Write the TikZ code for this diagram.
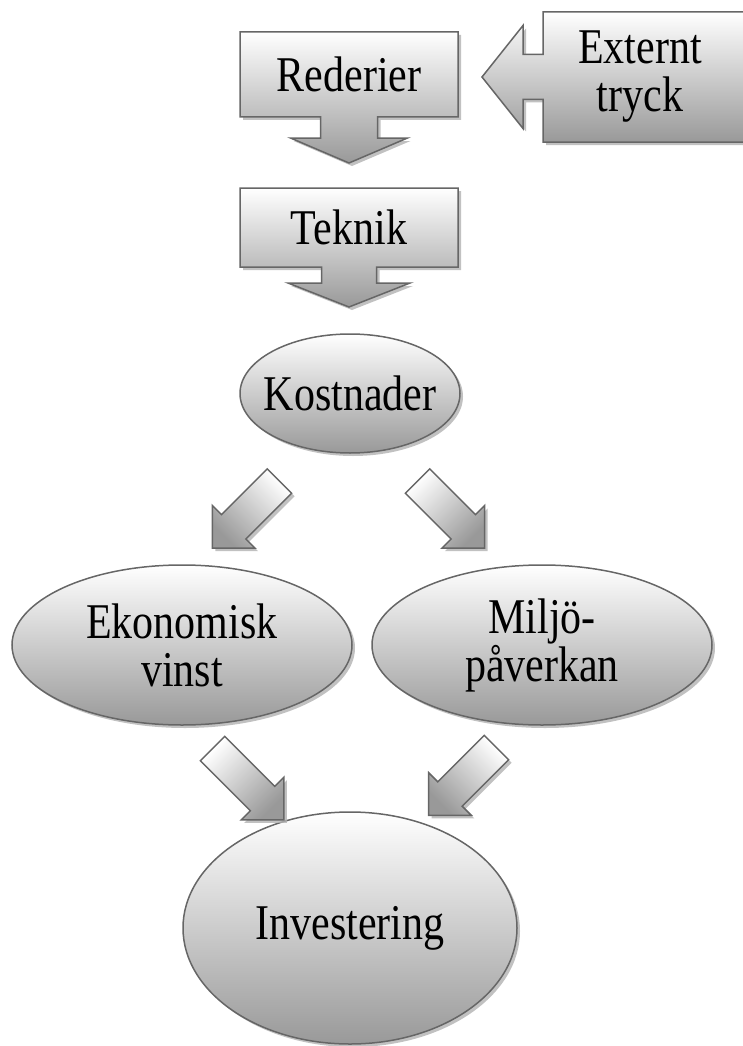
\documentclass[tikz,border=0pt]{standalone}
\usepackage{fontspec}
\setmainfont{Liberation Serif}[FakeStretch=0.84]
\usetikzlibrary{shapes, arrows, positioning, backgrounds, shadows, calc}
\tikzstyle{shaded} = [draw=black!60, line width=1.5pt, top color=white, bottom color=black!40, drop shadow={shadow xshift=3pt, shadow yshift=-3pt, fill=black!30, opacity=0.8}]
\tikzstyle{plaintext} = [inner sep=0pt, outer sep=0pt, align=center, font=\fontsize{50}{48}\selectfont]
\tikzstyle{calloutbox} = [shaded, line join=miter]
\tikzstyle{bubble} = [ellipse, shaded, inner sep=0pt, align=center, font=\fontsize{50}{48}\selectfont]
\tikzstyle{bigarrow} = [single arrow, shaded, inner xsep=0pt, inner ysep=16.5pt, single arrow tip angle=90, single arrow head extend=13pt, minimum width=59pt, minimum height=96pt, anchor=tail]

\begin{document}
\begin{tikzpicture}[x=1pt, y=1pt]
    \useasboundingbox (0,0) rectangle (743,-1046);

    % Nodes
    \node [plaintext, minimum width=218pt, minimum height=85pt] (rederier) at (349,-74.5) {Rederier};
    \node [plaintext, minimum width=218pt, minimum height=79pt] (teknik) at (349,-227.5) {Teknik};
    \node [plaintext, minimum width=194pt, minimum height=130pt] (externt) at (640,-77) {Externt\\tryck};
    \node [bubble, minimum width=220pt, minimum height=119pt, inner xsep=-12pt] (kostnader) at (350,-393.5) {Kostnader};
    \node [bubble, minimum width=340pt, minimum height=160pt] (vinst) at (182,-645) {Ekonomisk\\vinst};
    \node [bubble, minimum width=340pt, minimum height=160pt] (miljo) at (542,-645) {Miljö-\\påverkan};
    \node [bubble, minimum width=334pt, minimum height=232pt] (investering) at (350,-928) {Investering};

    % Arrows
    \node [bigarrow, rotate=225, shading angle=-45, minimum height=95pt] (kostnad2vinst) at (280,-480.5) {};
    \node [bigarrow, rotate=315, shading angle=45, minimum height=95pt] (kostnad2miljo) at (417,-480.5) {};
    \node [bigarrow, rotate=315, shading angle=45, minimum height=101pt] (vinst2invest) at (212,-748) {};
    \node [bigarrow, rotate=225, shading angle=-45, minimum height=96pt] (miljo2invest) at (497,-747) {};

    % Callouts
    \begin{pgfonlayer}{background}
        \path [calloutbox] (rederier.north west) -- (rederier.north east) -- (rederier.south east)
            -- ($(rederier.south)+(28.5,0)$) -- ++(0,-21) -- ++(30,0) -- ($(rederier.south)+(0,-46)$)
            -- ($(rederier.south)+(-58.5,-21)$) -- ++(30,0) -- ++(0,21) -- (rederier.south west) -- cycle;
        \path [calloutbox] (teknik.north west) -- (teknik.north east) -- (teknik.south east)
            -- ($(teknik.south)+(27.5,0)$) -- ++(0,-16) -- ++(33.5,0) -- ($(teknik.south)+(0,-40)$)
            -- ($(teknik.south)+(-61,-16)$) -- ++(33.5,0) -- ++(0,16) -- (teknik.south west) -- cycle;
        \path [calloutbox] (externt.north west) -- ($(externt.north east)+(20,0)$) -- ($(externt.south east)+(20,0)$)
            -- (externt.south west) -- ($(externt.west)+(0,-22.5)$) -- ++(-20,0) -- ++(0,-29) -- ($(externt.west)+(-61,0)$)
            -- ($(externt.west)+(-20,51.5)$) -- ++(0,-29) -- ++(20,0) -- cycle;
    \end{pgfonlayer}
\end{tikzpicture}
\end{document}
